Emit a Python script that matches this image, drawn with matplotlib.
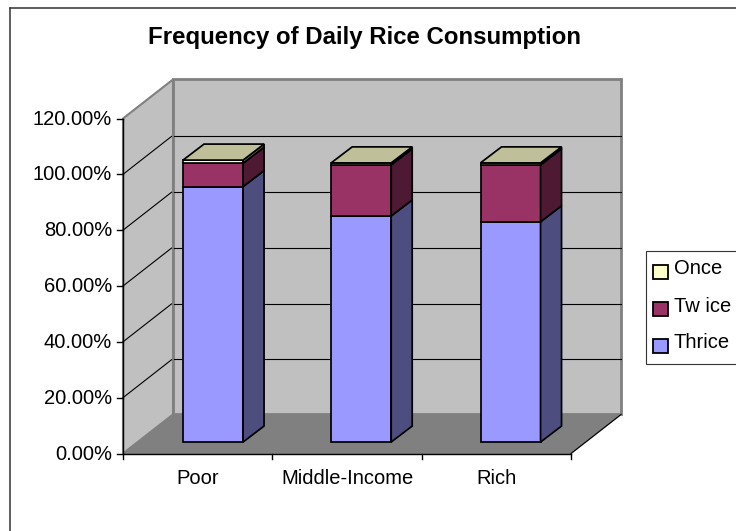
import matplotlib
matplotlib.use('Agg')
import matplotlib.pyplot as plt
from matplotlib.lines import Line2D
from matplotlib.patches import Polygon, Rectangle

plt.rcParams['font.family'] = ['Liberation Sans', 'DejaVu Sans']

categories = ['Poor', 'Middle-Income', 'Rich']
thrice = [91.5, 81.0, 78.9]
twice = [8.4, 18.3, 20.4]
once = [1.1, 0.7, 0.7]
yticks = [0, 20, 40, 60, 80, 100, 120]
series_names = ['Thrice', 'Tw ice', 'Once']
front_colors = ['#9999ff', '#993366', '#ffffcc']
side_colors = ['#4d4d80', '#4d1933', '#808066']
top_color = '#bfbf99'

W, H = 736, 531
X0, X1, Y0, Y1 = 123, 571, 453.5, 118.5   # front plane of the chart in pixels

fig = plt.figure(figsize=(W / 100, H / 100), dpi=100)
ax = fig.add_axes([X0 / W, 1 - Y0 / H, (X1 - X0) / W, (Y0 - Y1) / H])
ax.set_xlim(0, 3)
ax.set_ylim(0, 120)
ax.axis('off')

# depth of walls and bars, in data units
wall_dx, wall_dy = 50 / 149.33, 39 / 2.79
bar_dx, bar_dy = 21 / 149.33, 16 / 2.79
bar_base = 4.1
bar_w = 0.402
bar_left = [0.402, 1.394, 2.394]


def poly(pts, fc, ec='black', lw=1.0, z=1):
    ax.add_patch(Polygon(pts, closed=True, fc=fc, ec=ec, lw=lw, zorder=z,
                         clip_on=False, joinstyle='miter'))


# walls and floor
poly([(0, 0), (wall_dx, wall_dy), (3 + wall_dx, wall_dy), (3, 0)], '#808080', ec='#808080', z=1)
poly([(wall_dx, wall_dy), (wall_dx, 120 + wall_dy), (3 + wall_dx, 120 + wall_dy),
      (3 + wall_dx, wall_dy)], '#c0c0c0', ec='#808080', lw=2.0, z=1)
poly([(0, 0), (0, 120), (wall_dx, 120 + wall_dy), (wall_dx, wall_dy)], '#c0c0c0', ec='#808080', lw=1.5, z=1)
ax.plot([3, 3 + wall_dx], [0, wall_dy], color='black', lw=0.8, zorder=2, clip_on=False)

# gridlines
for t in yticks[1:-1]:
    ax.plot([0, wall_dx - 0.01], [t, t + wall_dy - 0.4], color='black', lw=0.8, zorder=2, clip_on=False)
    ax.plot([wall_dx + 0.01, 3 + wall_dx], [t + wall_dy - 0.3, t + wall_dy - 0.3], color='black', lw=0.8,
            zorder=2, clip_on=False)

# axis lines and ticks
ax.plot([0, 0], [0, 120], color='black', lw=1.0, zorder=3, clip_on=False)
ax.plot([0, 3], [0, 0], color='black', lw=1.0, zorder=3, clip_on=False)
for t in yticks:
    ax.plot([-0.04, 0], [t, t], color='black', lw=1.0, zorder=3, clip_on=False)
    ax.text(-0.074, t - 0.2, f'{t:.2f}%', ha='right', va='center', fontsize=14.5)
for i in range(4):
    ax.plot([i, i], [0, -2], color='black', lw=1.0, zorder=3, clip_on=False)
for i, c in enumerate(categories):
    ax.text(i + 0.5, -8.9, c, ha='center', va='center', fontsize=14.5)

# stacked 3d bars
for i in range(3):
    xl, xr = bar_left[i], bar_left[i] + bar_w
    b = bar_base
    for vals, fc, sc in zip([thrice, twice, once], front_colors, side_colors):
        v = vals[i]
        poly([(xl, b), (xr, b), (xr, b + v), (xl, b + v)], fc, lw=1.25, z=4)
        poly([(xr, b), (xr + bar_dx, b + bar_dy), (xr + bar_dx, b + v + bar_dy), (xr, b + v)], sc, lw=1.25, z=4)
        b += v
    poly([(xl, b), (xr, b), (xr + bar_dx, b + bar_dy), (xl + bar_dx, b + bar_dy)], top_color, lw=1.25, z=5)

fig.text(364 / W, 1 - 37 / H, 'Frequency of Daily Rice Consumption', ha='center', va='center',
         fontsize=17.3, fontweight='bold')

# chart border, only left and top are inside the picture
fig.add_artist(Line2D([10 / W, 10 / W], [0, 1 - 8 / H], transform=fig.transFigure, color='#333333', lw=1.1))
fig.add_artist(Line2D([10 / W, 1], [1 - 8 / H, 1 - 8 / H], transform=fig.transFigure, color='#333333', lw=1.1))

# legend, its right side runs off the picture
fig.add_artist(Rectangle((646 / W, 1 - 364 / H), 100 / W, 113 / H, transform=fig.transFigure,
                         fill=True, fc='white', ec='#333333', lw=0.8))
for name, fc, ys, yt in zip(series_names, front_colors, [345.5, 309, 271.5], [343, 306, 269]):
    fig.add_artist(Rectangle((653 / W, 1 - (ys + 7) / H), 14.5 / W, 14 / H, transform=fig.transFigure,
                             fc=fc, ec='black', lw=1.3))
    fig.text(674 / W, 1 - yt / H, name, ha='left', va='center', fontsize=14.5)

fig.savefig('out.png', dpi=100)
